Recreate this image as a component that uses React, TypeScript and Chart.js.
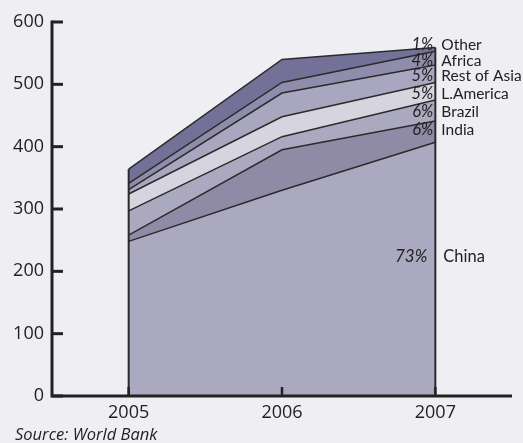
import React, { useEffect, useRef } from 'react';
import { Chart, registerables } from 'chart.js';

Chart.register(...registerables);

// ---- data ----
const years = ['2005', '2006', '2007'];
const seriesNames = ['China', 'India', 'Brazil', 'L.America', 'Rest of Asia', 'Africa', 'Other'];
const china = [248, 330, 407];
const india = [10, 65, 34];
const brazil = [39, 21, 34];
const latinAmerica = [27, 32, 28];
const restOfAsia = [7, 38, 28];
const africa = [10, 17, 22];
const other = [23, 37, 6];
const shareLabels = ['73%', '6%', '6%', '5%', '5%', '4%', '1%'];
const yTickValues = [0, 100, 200, 300, 400, 500, 600];
const sourceText = 'Source: World Bank';

const seriesValues = [china, india, brazil, latinAmerica, restOfAsia, africa, other];

// ---- styles ----
const fillColors = ['#aba9bf', '#8f8ba7', '#aba9c0', '#d6d4df', '#a9a7c0', '#908cac', '#747198'];
const FONT = "'Open Sans', 'DejaVu Sans', sans-serif";
const LFONT = "Lato, 'Open Sans', sans-serif";
const BG = '#eeeef3';
const INK = '#222222';

const annotate = {
  id: 'annotate',
  afterDatasetsDraw(chart: any) {
    const ctx = chart.ctx;
    const xs = chart.scales.x;
    const ys = chart.scales.y;
    const area = chart.chartArea;
    const n = years.length;
    const totals = years.map((_, i) => seriesValues.reduce((s, arr) => s + arr[i], 0));

    ctx.save();
    // vertical edges of stacked area
    ctx.strokeStyle = '#2b2b2b';
    ctx.lineWidth = 2;
    [0, n - 1].forEach((i) => {
      const x = xs.getPixelForValue(i);
      ctx.beginPath();
      ctx.moveTo(x, ys.getPixelForValue(0));
      ctx.lineTo(x, ys.getPixelForValue(totals[i]));
      ctx.stroke();
    });

    // axes
    ctx.strokeStyle = INK;
    ctx.lineWidth = 3;
    ctx.lineCap = 'butt';
    const yTop = ys.getPixelForValue(600);
    const yBottom = ys.getPixelForValue(0);
    ctx.beginPath();
    ctx.moveTo(area.left, yTop - 1.5);
    ctx.lineTo(area.left, yBottom + 1.5);
    ctx.moveTo(area.left - 1.5, yBottom);
    ctx.lineTo(area.right, yBottom);
    ctx.stroke();
    yTickValues.forEach((v) => {
      const y = ys.getPixelForValue(v);
      ctx.beginPath();
      ctx.moveTo(area.left, y);
      ctx.lineTo(area.left + 11, y);
      ctx.stroke();
    });
    ctx.lineWidth = 2.5;
    years.forEach((_, i) => {
      const x = xs.getPixelForValue(i);
      ctx.beginPath();
      ctx.moveTo(x, yBottom);
      ctx.lineTo(x, yBottom - 9);
      ctx.stroke();
    });

    // series labels at 2007
    const xEnd = xs.getPixelForValue(n - 1);
    const topY = ys.getPixelForValue(totals[n - 1]);
    const offsets = [0, 82, 64.5, 46.5, 28.5, 13, -2.5];
    ctx.fillStyle = INK;
    ctx.textBaseline = 'middle';
    for (let k = 1; k < seriesNames.length; k++) {
      const y = topY + offsets[k];
      ctx.font = `italic 16.5px ${LFONT}`;
      ctx.textAlign = 'right';
      ctx.fillText(shareLabels[k], xEnd - 2, y);
      ctx.font = `15.5px ${LFONT}`;
      ctx.textAlign = 'left';
      ctx.fillText(seriesNames[k], xEnd + 6, y);
    }
    const chinaY = ys.getPixelForValue(china[n - 1] * 0.55);
    ctx.font = `italic 17px ${LFONT}`;
    ctx.textAlign = 'right';
    ctx.fillText(shareLabels[0], xEnd - 8, chinaY);
    ctx.font = `16.5px ${LFONT}`;
    ctx.textAlign = 'left';
    ctx.fillText(seriesNames[0], xEnd + 8, chinaY);

    // source
    ctx.font = `italic 16.5px ${FONT}`;
    ctx.textAlign = 'left';
    ctx.textBaseline = 'alphabetic';
    ctx.fillText(sourceText, 15, 440);
    ctx.restore();
  },
};

export default function App() {
  const ref = useRef<HTMLCanvasElement | null>(null);
  useEffect(() => {
    document.body.style.margin = '0';
    document.body.style.background = BG;
    const canvas = ref.current;
    if (!canvas) return;
    const chart = new Chart(canvas, {
      type: 'line',
      data: {
        labels: years,
        datasets: seriesNames.map((name, i) => ({
          label: name,
          data: seriesValues[i],
          backgroundColor: fillColors[i],
          borderColor: '#2b2b2b',
          borderWidth: 1.5,
          fill: i === 0 ? 'origin' : '-1',
          pointRadius: 0,
          tension: 0,
        })),
      },
      options: {
        animation: false,
        responsive: false,
        devicePixelRatio: 1,
        layout: { padding: { top: 22, right: 11, left: 0, bottom: 0 } },
        plugins: {
          legend: { display: false },
          tooltip: { enabled: false },
        },
        scales: {
          x: {
            type: 'category',
            offset: true,
            grid: { display: false, drawTicks: false, offset: false },
            border: { display: false },
            ticks: { font: { family: FONT, size: 18 }, color: INK, padding: 6, maxRotation: 0 },
            afterFit: (s: any) => {
              s.height = 47;
            },
          },
          y: {
            stacked: true,
            min: 0,
            max: 600,
            afterBuildTicks: (s: any) => {
              s.ticks = yTickValues.map((v) => ({ value: v }));
            },
            grid: { display: false, drawTicks: false },
            border: { display: false },
            ticks: { font: { family: FONT, size: 18 }, color: INK, padding: 8 },
            afterFit: (s: any) => {
              s.width = 52;
            },
          },
        },
      },
      plugins: [annotate],
    } as any);
    return () => chart.destroy();
  }, []);
  return (
    <div style={{ width: 523, height: 443, background: BG, position: 'relative' }}>
      <canvas ref={ref} width={523} height={443} style={{ display: 'block' }} />
    </div>
  );
}
